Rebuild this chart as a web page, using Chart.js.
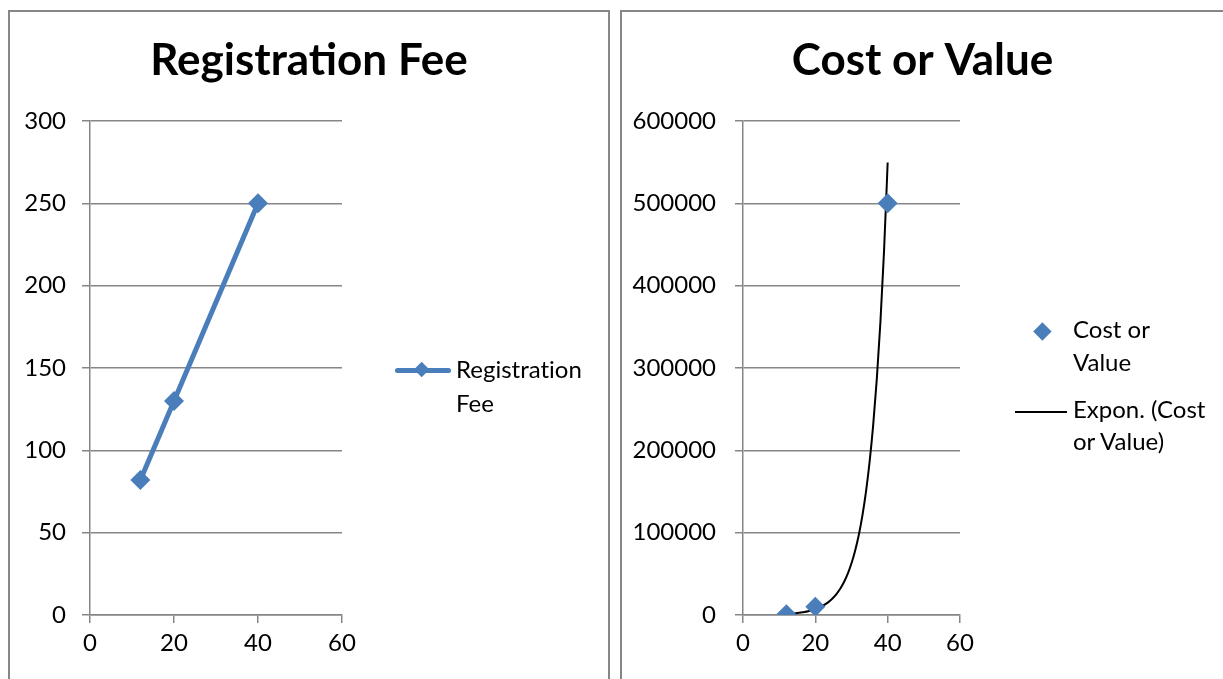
<!DOCTYPE html>
<html>
<head>
<meta charset="utf-8">
<script src="https://cdn.jsdelivr.net/npm/chart.js@4/dist/chart.umd.min.js"></script>
<style>
  body { margin: 0; background: #fff; width: 1223px; height: 679px; overflow: hidden; position: relative; font-family: Lato, "Open Sans", sans-serif; }
  .box { position: absolute; border: 2px solid #878787; box-sizing: border-box; }
  canvas { position: absolute; }
  .legend { position: absolute; font-size: 24px; color: #000; white-space: nowrap; font-variant-ligatures: none; }
  .mk { position: absolute; }
</style>
</head>
<body>
<div class="box" style="left:8px; top:10px; width:602px; height:700px;"></div>
<div class="box" style="left:620px; top:10px; width:620px; height:700px;"></div>
<canvas id="feeChart" width="598" height="667" style="left:10px; top:12px;"></canvas>
<canvas id="costChart" width="601" height="667" style="left:622px; top:12px;"></canvas>

<!-- legends, kept as html so the labels can wrap like the original -->
<div class="mk" style="left:395px; top:367.5px; width:56px; height:5px; background:#4a7ebb; border-radius:3px;"></div>
<div class="mk" style="left:416.3px; top:364.3px; width:11.4px; height:11.4px; background:#4a7ebb; transform:rotate(45deg);"></div>
<div class="legend" style="left:456px; top:352px; line-height:34px;">Registration<br>Fee</div>

<div class="mk" style="left:1035.6px; top:324.6px; width:12.8px; height:12.8px; background:#4a7ebb; transform:rotate(45deg);"></div>
<div class="legend" style="left:1073px; top:312px; line-height:33px;">Cost or<br>Value</div>
<div class="mk" style="left:1015px; top:411px; width:52px; height:2px; background:#000;"></div>
<div class="legend" style="left:1073px; top:393px; line-height:32px;">Expon. (Cost<br>or Value)</div>

<script>
const ages = [12, 20, 40];
const registrationFee = [82, 130, 250];
const costOrValue = [1000, 10000, 500000];
const xTicks = [0, 20, 40, 60];
const feeTicks = [0, 50, 100, 150, 200, 250, 300];
const costTicks = [0, 100000, 200000, 300000, 400000, 500000, 600000];

const blue = '#4a7ebb';
const gridGray = '#868686';
const tickFont = { family: 'Lato', size: 24 };

// exponential trendline like Excel: least squares on ln(y)
function expFit(xs, ys) {
  const n = xs.length;
  const ly = ys.map(v => Math.log(v));
  const mx = xs.reduce((a, b) => a + b, 0) / n;
  const my = ly.reduce((a, b) => a + b, 0) / n;
  let sxy = 0, sxx = 0;
  xs.forEach((x, i) => { sxy += (x - mx) * (ly[i] - my); sxx += (x - mx) * (x - mx); });
  const b = sxy / sxx;
  const a = Math.exp(my - b * mx);
  return x => a * Math.exp(b * x);
}
const trend = expFit(ages, costOrValue);
const trendPts = [];
for (let x = ages[0]; x <= ages[ages.length - 1]; x += 1) trendPts.push({ x: x, y: trend(x) });

function xScale() {
  return {
    type: 'linear', min: 0, max: 60,
    afterBuildTicks: s => { s.ticks = xTicks.map(v => ({ value: v })); },
    afterFit: s => { s.height = 64; },
    ticks: { font: tickFont, color: '#000', padding: 6, maxRotation: 0 },
    grid: { drawOnChartArea: false, drawTicks: true, tickLength: 8, color: gridGray, lineWidth: 1.5 },
    border: { color: gridGray, width: 1.5 }
  };
}
function yScale(max, ticks, width, pad) {
  return {
    type: 'linear', min: 0, max: max,
    afterBuildTicks: s => { s.ticks = ticks.map(v => ({ value: v })); },
    afterFit: s => { s.width = width; },
    ticks: { font: tickFont, color: '#000', padding: pad, callback: v => String(v) },
    grid: { color: gridGray, lineWidth: 1.5, tickLength: 8 },
    border: { color: gridGray, width: 1.5 }
  };
}
// empty right axis that only holds the room where the legend sits
function spacer(width) {
  return {
    type: 'linear', axis: 'y', position: 'right', display: true,
    afterFit: s => { s.width = width; },
    ticks: { display: false }, grid: { display: false }, border: { display: false }
  };
}
function titleOpts(text) {
  return {
    display: true, text: text, color: '#000',
    font: { family: 'Lato', size: 44, weight: 'bold', lineHeight: 1.2 },
    padding: { top: 22, bottom: 34.2 }
  };
}

new Chart(document.getElementById('feeChart'), {
  type: 'scatter',
  data: {
    datasets: [{
      label: 'Registration Fee',
      data: ages.map((x, i) => ({ x: x, y: registrationFee[i] })),
      showLine: true,
      borderColor: blue, borderWidth: 5,
      backgroundColor: blue,
      pointStyle: 'rectRot', pointRadius: 10, pointBorderWidth: 0
    }]
  },
  options: {
    responsive: false, animation: false, devicePixelRatio: 1,
    layout: { padding: 0 },
    plugins: { legend: { display: false }, tooltip: { enabled: false }, title: titleOpts('Registration Fee') },
    scales: { x: xScale(), y: yScale(300, feeTicks, 80, 16), legendRoom: spacer(266) }
  }
});

new Chart(document.getElementById('costChart'), {
  type: 'scatter',
  data: {
    datasets: [{
      label: 'Cost or Value',
      data: ages.map((x, i) => ({ x: x, y: costOrValue[i] })),
      backgroundColor: blue, borderColor: blue,
      pointStyle: 'rectRot', pointRadius: 10, pointBorderWidth: 0
    }, {
      label: 'Expon. (Cost or Value)',
      data: trendPts,
      showLine: true, borderColor: '#000', borderWidth: 2,
      pointRadius: 0, cubicInterpolationMode: 'monotone'
    }]
  },
  options: {
    responsive: false, animation: false, devicePixelRatio: 1,
    layout: { padding: 0 },
    plugins: { legend: { display: false }, tooltip: { enabled: false }, title: titleOpts('Cost or Value') },
    scales: { x: xScale(), y: yScale(600000, costTicks, 121, 19), legendRoom: spacer(263) }
  }
});
</script>
</body>
</html>
